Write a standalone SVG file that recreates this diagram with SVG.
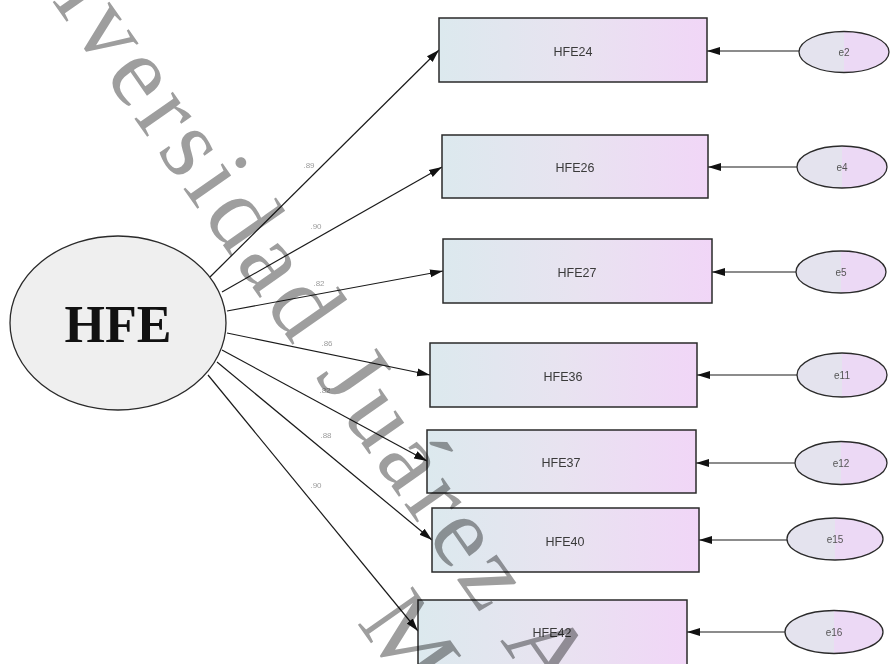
<svg xmlns="http://www.w3.org/2000/svg" width="890" height="664" viewBox="0 0 890 664">
  <style>
    .box rect { fill: url(#boxFill); stroke: #2a2a2a; stroke-width: 1.5; }
    .box text { font-family: "Liberation Sans", Arial, sans-serif; font-size: 12.5px; fill: #3a3a3a; text-anchor: middle; }
    .err ellipse { fill: url(#errFill); stroke: #2a2a2a; stroke-width: 1.3; }
    .err text { font-family: "Liberation Sans", Arial, sans-serif; font-size: 10px; fill: #555; text-anchor: middle; }
    .latent ellipse { fill: #efefef; stroke: #2a2a2a; stroke-width: 1.3; }
    .latent text { font-family: "Liberation Serif", "Times New Roman", serif; font-weight: bold; font-size: 52px; fill: #111; text-anchor: middle; }
    .conn line { stroke: #1a1a1a; stroke-width: 1.2; marker-end: url(#arrow); }
    .coef { font-family: "Liberation Sans", Arial, sans-serif; font-size: 8px; fill: #9c9c9c; text-anchor: middle; }
    .wm { font-family: "Liberation Serif", "Times New Roman", serif; font-size: 102px; fill: #9e9e9e; letter-spacing: 6px; mix-blend-mode: multiply; }
  </style>
  <defs>
    <linearGradient id="boxFill" x1="0" y1="0" x2="1" y2="0">
      <stop offset="0" stop-color="#dce9ee"/>
      <stop offset="0.5" stop-color="#e8e3f0"/>
      <stop offset="1" stop-color="#f1d6f7"/>
    </linearGradient>
    <linearGradient id="errFill" x1="0" y1="0" x2="1" y2="0">
      <stop offset="0.5" stop-color="#e4e3ee"/>
      <stop offset="0.5" stop-color="#ecd9f5"/>
    </linearGradient>
    <marker id="arrow" markerUnits="userSpaceOnUse" markerWidth="14" markerHeight="10" refX="13" refY="5" orient="auto">
      <path d="M0,1 L13,5 L0,9 z" fill="#111"/>
    </marker>
  </defs>

  <rect width="890" height="664" fill="#ffffff"/>

  <!-- connectors -->
  <g class="conn" id="connectors">
    <line x1="210" y1="277" x2="439" y2="50"/>
    <line x1="222" y1="292" x2="442" y2="167"/>
    <line x1="227" y1="311" x2="443" y2="271"/>
    <line x1="227" y1="333" x2="430" y2="375"/>
    <line x1="222" y1="350" x2="427" y2="461"/>
    <line x1="217" y1="362" x2="432" y2="540"/>
    <line x1="208" y1="375" x2="418" y2="631"/>

    <line x1="799" y1="51" x2="707" y2="51"/>
    <line x1="797" y1="167" x2="708" y2="167"/>
    <line x1="796" y1="272" x2="712" y2="272"/>
    <line x1="797" y1="375" x2="697" y2="375"/>
    <line x1="795" y1="463" x2="696" y2="463"/>
    <line x1="787" y1="540" x2="699" y2="540"/>
    <line x1="785" y1="632" x2="687" y2="632"/>
  </g>

  <!-- loading coefficients -->
  <g id="coefficients">
    <text class="coef" x="309" y="168">.89</text>
    <text class="coef" x="316" y="229">.90</text>
    <text class="coef" x="319" y="286">.82</text>
    <text class="coef" x="327" y="346">.86</text>
    <text class="coef" x="325" y="393">.82</text>
    <text class="coef" x="326" y="438">.88</text>
    <text class="coef" x="316" y="488">.90</text>
  </g>

  <!-- latent factor -->
  <g class="latent" id="HFE">
    <ellipse cx="118" cy="323" rx="108" ry="87"/>
    <text x="118" y="342">HFE</text>
  </g>

  <!-- observed indicators -->
  <g class="box" id="HFE24"><rect x="439" y="18" width="268" height="64"/><text x="573" y="56">HFE24</text></g>
  <g class="box" id="HFE26"><rect x="442" y="135" width="266" height="63"/><text x="575" y="172">HFE26</text></g>
  <g class="box" id="HFE27"><rect x="443" y="239" width="269" height="64"/><text x="577" y="277">HFE27</text></g>
  <g class="box" id="HFE36"><rect x="430" y="343" width="267" height="64"/><text x="563" y="381">HFE36</text></g>
  <g class="box" id="HFE37"><rect x="427" y="430" width="269" height="63"/><text x="561" y="467">HFE37</text></g>
  <g class="box" id="HFE40"><rect x="432" y="508" width="267" height="64"/><text x="565" y="546">HFE40</text></g>
  <g class="box" id="HFE42"><rect x="418" y="600" width="269" height="66"/><text x="552" y="637">HFE42</text></g>

  <!-- error terms -->
  <g class="err" id="e2"><ellipse cx="844" cy="52" rx="45" ry="20.5"/><text x="844" y="56">e2</text></g>
  <g class="err" id="e4"><ellipse cx="842" cy="167" rx="45" ry="21"/><text x="842" y="171">e4</text></g>
  <g class="err" id="e5"><ellipse cx="841" cy="272" rx="45" ry="21"/><text x="841" y="276">e5</text></g>
  <g class="err" id="e11"><ellipse cx="842" cy="375" rx="45" ry="22"/><text x="842" y="379">e11</text></g>
  <g class="err" id="e12"><ellipse cx="841" cy="463" rx="46" ry="21.5"/><text x="841" y="467">e12</text></g>
  <g class="err" id="e15"><ellipse cx="835" cy="539" rx="48" ry="21"/><text x="835" y="543">e15</text></g>
  <g class="err" id="e16"><ellipse cx="834" cy="632" rx="49" ry="21.5"/><text x="834" y="636">e16</text></g>

  <!-- diagonal watermark -->
  <g transform="translate(-27,-111.7) rotate(55)">
    <text class="wm" x="0" y="0">Universidad Juárez Autónoma de Tabasco</text>
    <text class="wm" x="821" y="107">México</text>
  </g>
</svg>
